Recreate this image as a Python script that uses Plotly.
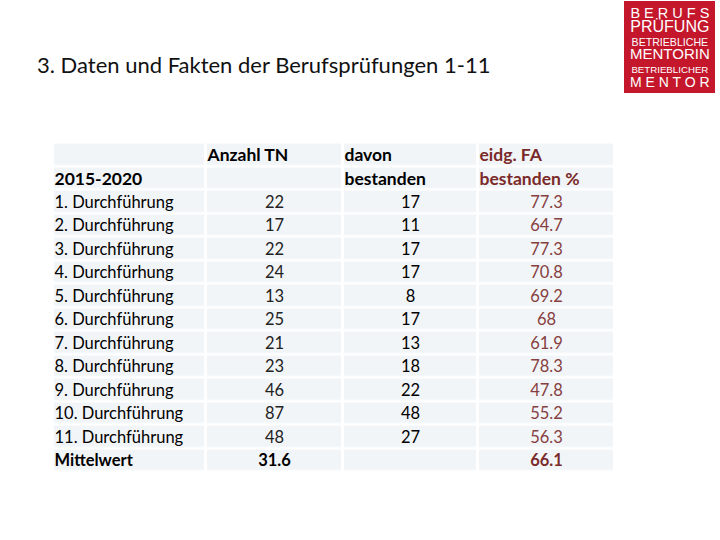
import plotly.graph_objects as go

title = "3. Daten und Fakten der Berufsprüfungen 1-11"
period = "2015-2020"
col_headers_top = ["", "Anzahl TN", "davon", "eidg. FA"]
col_headers_bottom = [period, "", "bestanden", "bestanden %"]
categories = ["1. Durchführung", "2. Durchführung", "3. Durchführung", "4. Durchfürhung",
              "5. Durchführung", "6. Durchführung", "7. Durchführung", "8. Durchführung",
              "9. Durchführung", "10. Durchführung", "11. Durchführung"]
anzahl_tn = [22, 17, 22, 24, 13, 25, 21, 23, 46, 87, 48]
bestanden = [17, 11, 17, 17, 8, 17, 13, 18, 22, 48, 27]
quote = [77.3, 64.7, 77.3, 70.8, 69.2, 68, 61.9, 78.3, 47.8, 55.2, 56.3]
mean_label = "Mittelwert"
mean_tn = 31.6
mean_quote = 66.1
logo_lines = ["B E R U F S", "PRÜFUNG", "BETRIEBLICHE", "MENTORIN", "BETRIEBLICHER", "M E N T O R"]

# ---- layout (pixel coordinates) ----
W, H = 720, 540
COL_EDGES = [53, 206, 343, 478, 615]
TOP = 142.5
ROW = 23.5
TEXT_DY = 2.5
N_ROWS = 2 + len(categories) + 1
ROW_EDGES = [TOP + ROW * i for i in range(N_ROWS + 1)]
ROW_MID = [TOP + ROW * (i + 0.5) + TEXT_DY for i in range(N_ROWS)]

FILL = "#f2f5f8"
RED_H = "#7a2a2a"
RED_D = "#86403f"
FONT = "Lato"

fig = go.Figure()

# cell backgrounds
fig.add_trace(go.Heatmap(
    x=COL_EDGES, y=ROW_EDGES,
    z=[[1] * (len(COL_EDGES) - 1) for _ in range(N_ROWS)],
    colorscale=[[0, FILL], [1, FILL]], showscale=False,
    xgap=3, ygap=2.5, hoverinfo="skip",
))

def add_text(xs, ys, texts, pos, size, color, bold=False):
    fig.add_trace(go.Scatter(
        x=xs, y=ys, text=texts, mode="text", textposition=pos,
        textfont=dict(family=FONT, size=size, color=color, weight="bold" if bold else "normal"),
        hoverinfo="skip", showlegend=False, cliponaxis=False,
    ))

# header rows (left aligned)
hdr_colors = ["#000000", "#000000", "#000000", RED_H]
for c in range(4):
    xl = COL_EDGES[c] + 1.5
    add_text([xl, xl], ROW_MID[0:2], [col_headers_top[c], col_headers_bottom[c]],
             "middle right", 17.5, hdr_colors[c], bold=True)

data_rows = ROW_MID[2:2 + len(categories)]
mean_row = ROW_MID[-1]
centers = [(COL_EDGES[i] + COL_EDGES[i + 1]) / 2 for i in range(4)]

# first column
add_text([COL_EDGES[0] + 1.5] * len(categories), data_rows, categories, "middle right", 16.5, "#000000")
add_text([COL_EDGES[0] + 1.5], [mean_row], [mean_label], "middle right", 16.5, "#000000", bold=True)

# number columns
add_text([centers[1]] * len(anzahl_tn), data_rows, [str(v) for v in anzahl_tn], "middle center", 16.5, "#222222")
add_text([centers[1]], [mean_row], [str(mean_tn)], "middle center", 16.5, "#000000", bold=True)
add_text([centers[2]] * len(bestanden), data_rows, [str(v) for v in bestanden], "middle center", 16.5, "#000000")
add_text([centers[3]] * len(quote), data_rows, [f"{v:g}" for v in quote], "middle center", 16.5, RED_D)
add_text([centers[3]], [mean_row], [f"{mean_quote:g}"], "middle center", 16.5, RED_H, bold=True)

# title
fig.add_annotation(x=35, y=64, xref="x", yref="y", xanchor="left", yanchor="middle",
                   text=title, showarrow=False, font=dict(family=FONT, size=22, color="#111111"))

# logo
fig.add_shape(type="rect", xref="x", yref="y", x0=624, x1=715, y0=1, y1=93,
              fillcolor="#c4172c", line=dict(width=0), layer="above")
logo_sizes = [14.5, 16, 10.6, 15, 9.7, 14]
logo_text = "<br>".join(f'<span style="font-size:{sz}px">{t}</span>' for t, sz in zip(logo_lines, logo_sizes))
fig.add_annotation(x=670, y=47.5, xref="x", yref="y", xanchor="center", yanchor="middle",
                   text=logo_text, showarrow=False, align="center",
                   font=dict(family="Liberation Sans", size=10.6, color="white"))

fig.update_xaxes(range=[0, W], visible=False, fixedrange=True)
fig.update_yaxes(range=[H, 0], visible=False, fixedrange=True)
fig.update_layout(width=W, height=H, margin=dict(l=0, r=0, t=0, b=0),
                  paper_bgcolor="white", plot_bgcolor="white", showlegend=False)
fig.write_html("out.html", config={"displayModeBar": False},
               post_script="document.body.style.margin='0px';document.body.style.overflow='hidden';")
